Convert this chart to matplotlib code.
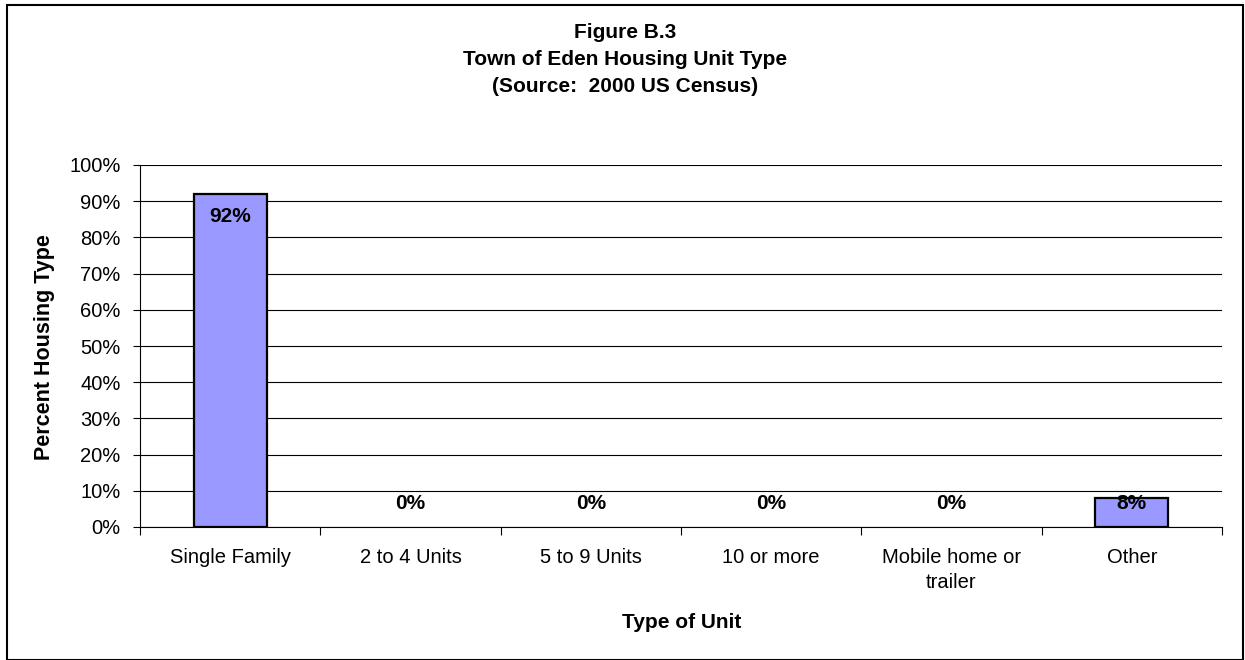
import matplotlib
matplotlib.use("Agg")
import matplotlib.pyplot as plt
from matplotlib.patches import Rectangle

plt.rcParams['font.family'] = ['Liberation Sans', 'DejaVu Sans']

categories = ["Single Family", "2 to 4 Units", "5 to 9 Units", "10 or more",
              "Mobile home or\ntrailer", "Other"]
values = [92, 0, 0, 0, 0, 8]
labels = ["92%", "0%", "0%", "0%", "0%", "8%"]

W, H = 1245, 660
fig = plt.figure(figsize=(W / 100, H / 100), dpi=100)
# chart border
fig.patches.append(Rectangle((6.5 / W, 0.5 / H), 1236.5 / W, 654.5 / H, transform=fig.transFigure,
                             fill=False, edgecolor='black', linewidth=1.5))

ax = fig.add_axes([140 / W, 1 - 527 / H, (1222 - 140) / W, (527 - 165) / H])

x = list(range(len(categories)))
edges = ['black' if v > 0 else 'none' for v in values]
ax.bar(x, values, width=0.405, color='#9999FF', edgecolor=edges, linewidth=1.6, zorder=3)

for xi, v, lab in zip(x, values, labels):
    ax.text(xi, max(v - 6.1, 6.6), lab, ha='center', va='center',
            fontsize=15, fontweight='bold', zorder=4)

ax.set_xlim(-0.5, len(categories) - 0.5)
ax.set_ylim(0, 100)
ax.set_yticks(range(0, 101, 10))
ax.set_yticklabels([f"{t}%" for t in range(0, 101, 10)], fontsize=14.5)
ax.yaxis.grid(True, color='black', linewidth=0.8, zorder=0)

ax.set_xticks(x)
ax.set_xticklabels(categories, fontsize=14.5, linespacing=1.42)
ax.tick_params(axis='x', length=0, pad=15.2)
ax.set_xticks([i - 0.5 for i in range(len(categories) + 1)], minor=True)
ax.tick_params(axis='x', which='minor', length=6, direction='out', width=0.8)
ax.tick_params(axis='y', length=5, direction='out', width=0.8, pad=9)

for s in ['top', 'right']:
    ax.spines[s].set_visible(False)
ax.spines['left'].set_linewidth(0.8)
ax.spines['bottom'].set_linewidth(0.8)

fig.text(45 / W, 1 - 347 / H, "Percent Housing Type", rotation=90, ha='center', va='center',
         fontsize=15.5, fontweight='bold')
fig.text(682 / W, 1 - 622 / H, "Type of Unit", ha='center', va='center',
         fontsize=15, fontweight='bold')

titles = ["Figure B.3", "Town of Eden Housing Unit Type", "(Source:  2000 US Census)"]
for t, yp in zip(titles, [32, 59.5, 86]):
    fig.text(625 / W, 1 - yp / H, t, ha='center', va='center', fontsize=15, fontweight='bold')

fig.savefig("out.png", dpi=100)
